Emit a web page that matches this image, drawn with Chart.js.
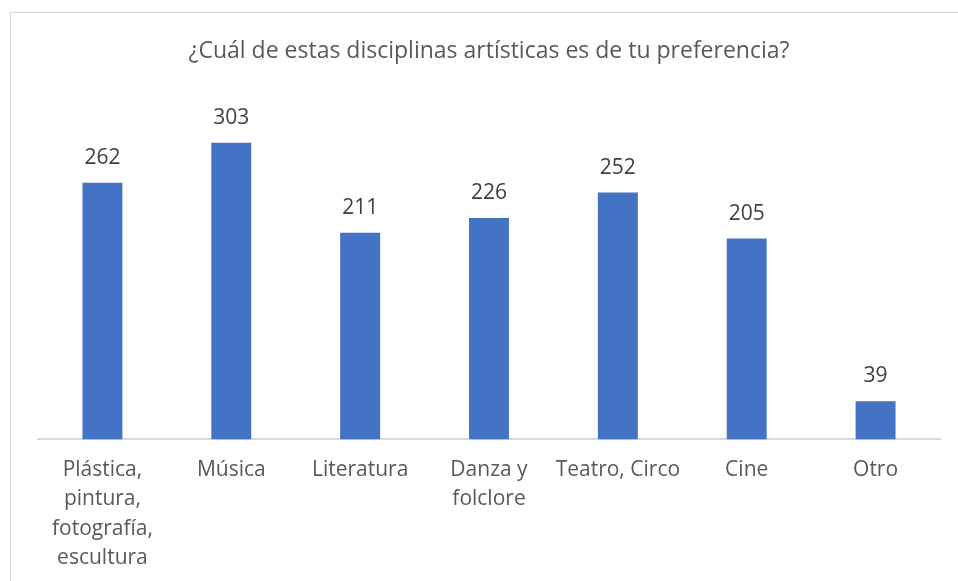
<!DOCTYPE html>
<html>
<head>
<meta charset="utf-8">
<script src="https://cdn.jsdelivr.net/npm/chart.js@4"></script>
<style>
  html, body { margin: 0; padding: 0; background: #fff; }
  #wrap { position: relative; width: 958px; height: 581px; overflow: hidden; }
  #frame { position: absolute; left: 10px; top: 12px; width: 960px; height: 600px;
           border: 1px solid #D9D9D9; box-sizing: border-box; }
  #box { position: absolute; left: 0; top: 0; width: 958px; height: 581px; }
</style>
</head>
<body>
<div id="wrap">
  <div id="frame"></div>
  <div id="box"><canvas id="myChart"></canvas></div>
</div>
<script>
const titulo = "¿Cuál de estas disciplinas artísticas es de tu preferencia?";
const categorias = [
  ["Plástica,", "pintura,", "fotografía,", "escultura"],
  "Música",
  "Literatura",
  ["Danza y", "folclore"],
  "Teatro, Circo",
  "Cine",
  "Otro"
];
const respuestas = [262, 303, 211, 226, 252, 205, 39];

const fuente = "'Open Sans', 'Noto Sans', sans-serif";

// etiquetas de valor encima de cada barra
const etiquetas = {
  id: 'etiquetas',
  afterDatasetsDraw(chart) {
    const c = chart.ctx;
    const meta = chart.getDatasetMeta(0);
    c.save();
    c.font = "21px " + fuente;
    c.fillStyle = "#404040";
    c.textAlign = "center";
    c.textBaseline = "middle";
    meta.data.forEach((bar, i) => {
      c.fillText(respuestas[i], bar.x, bar.y - 25);
    });
    c.restore();
  }
};

const ctx = document.getElementById('myChart');
new Chart(ctx, {
  type: 'bar',
  data: {
    labels: categorias,
    datasets: [{
      data: respuestas,
      backgroundColor: '#4472C4',
      barPercentage: 0.31,
      categoryPercentage: 1
    }]
  },
  options: {
    responsive: true,
    maintainAspectRatio: false,
    animation: false,
    layout: { padding: { left: 38, right: 18, top: 0, bottom: 0 } },
    plugins: {
      legend: { display: false },
      tooltip: { enabled: false },
      title: {
        display: true,
        text: titulo,
        color: '#595959',
        font: { family: fuente, size: 23, weight: 'normal' },
        padding: { top: 38, bottom: 31 }
      }
    },
    scales: {
      x: {
        grid: { display: false },
        border: { color: '#D9D9D9', width: 2 },
        ticks: {
          color: '#595959',
          font: { family: fuente, size: 21, lineHeight: 1.4 },
          maxRotation: 0,
          autoSkip: false,
          padding: 8
        }
      },
      y: {
        display: false,
        min: 0,
        max: 350
      }
    }
  },
  plugins: [etiquetas]
});
</script>
</body>
</html>
